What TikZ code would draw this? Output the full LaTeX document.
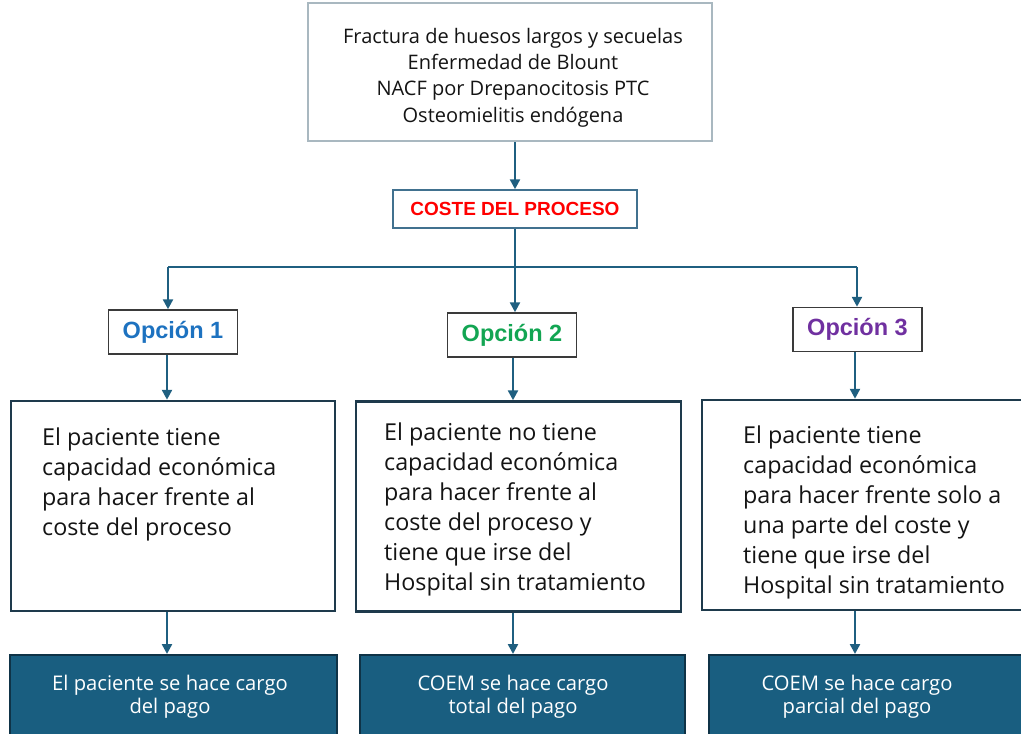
\documentclass[tikz,border=0pt]{standalone}
\usepackage{fontspec}
\setmainfont{Open Sans}
\newfontfamily\arialf{Liberation Sans}
\usetikzlibrary{arrows.meta}
\definecolor{arrc}{HTML}{1F5F80}
\definecolor{topbd}{HTML}{A9B8C0}
\definecolor{costebd}{HTML}{41718F}
\definecolor{opbd}{HTML}{3A3A3A}
\definecolor{midbd}{HTML}{1E3A4C}
\definecolor{botfill}{HTML}{195E80}
\definecolor{botbd}{HTML}{0F3347}
\definecolor{txt}{HTML}{141414}
\definecolor{opA}{HTML}{1D72C0}
\definecolor{opB}{HTML}{12A552}
\definecolor{opC}{HTML}{7030A0}
\definecolor{redc}{HTML}{FF0000}
\tikzset{
  conn/.style={draw=arrc, line width=2.4pt},
  arr/.style={conn, -{Triangle[length=10pt,width=10pt]}},
  topbox/.style={draw=topbd, line width=2pt, fill=white, inner sep=0pt, minimum width=404pt, minimum height=138pt},
  costebox/.style={draw=costebd, line width=1.5pt, fill=white, inner sep=0pt, minimum width=244pt, minimum height=38pt},
  opbox/.style={draw=opbd, line width=1.5pt, fill=white, inner sep=0pt, minimum width=129pt, minimum height=44pt, font=\arialf\bfseries\fontsize{23.5}{26}\selectfont},
  midbox/.style={draw=midbd, line width=2.5pt, fill=white, inner sep=0pt, minimum height=210pt},
  midtext/.style={anchor=base west, align=left, inner sep=0pt, text=txt, font=\fontsize{23.3}{30}\selectfont},
  botbox/.style={draw=botbd, line width=2pt, fill=botfill, inner sep=0pt, minimum height=95pt},
  bottext/.style={align=center, inner sep=0pt, anchor=base, text=white, font=\fontsize{20.2}{23}\selectfont},
}
\begin{document}
\begin{tikzpicture}[x=1pt,y=-1pt]
\useasboundingbox (0,0) rectangle (1021,734);
\clip (0,0) rectangle (1021,734);
% top box
\node[topbox] (top) at (510,72) {};
\node[align=center, inner sep=0pt, anchor=base, text=txt, font=\fontsize{20}{26.3}\selectfont] (toptext) at (513,122)
  {Fractura de huesos largos y secuelas\\Enfermedad de Blount\\NACF por Drepanocitosis PTC\\Osteomielitis endógena};
% coste
\node[costebox, text=redc, font=\arialf\bfseries\fontsize{19}{22}\selectfont] (coste) at (515,209) {COSTE DEL PROCESO};
% options
\node[opbox, text=opA] (op1) at (173,332) {Opción 1};
\node[opbox, text=opB] (op2) at (512,335) {Opción 2};
\node[opbox, text=opC] (op3) at (857.5,329.5) {Opción 3};
% middle boxes
\node[midbox, minimum width=324pt] (mid1) at (173,506) {};
\node[midbox, minimum width=325pt] (mid2) at (518.5,506.5) {};
\node[midbox, minimum width=328pt] (mid3) at (866,505) {};
\node[midtext] (t1) at (42,535) {El paciente tiene\\capacidad económica\\para hacer frente al\\coste del proceso};
\node[midtext] (t2) at (384,590) {El paciente no tiene\\capacidad económica\\para hacer frente al\\coste del proceso y\\tiene que irse del\\Hospital sin tratamiento};
\node[midtext] (t3) at (743,593) {El paciente tiene\\capacidad económica\\para hacer frente solo a\\una parte del coste y\\tiene que irse del\\Hospital sin tratamiento};
% bottom boxes
\node[botbox, minimum width=327pt] (bot1) at (173.5,702.5) {};
\node[botbox, minimum width=325pt] (bot2) at (522.5,702.5) {};
\node[botbox, minimum width=326pt] (bot3) at (872,702.5) {};
\node[bottext] (b1) at (170,713) {El paciente se hace cargo\\del pago};
\node[bottext] (b2) at (513,713) {COEM se hace cargo\\total del pago};
\node[bottext] (b3) at (857,713) {COEM se hace cargo\\parcial del pago};
% connectors
\coordinate (jl) at (168,267);
\coordinate (jr) at (857,267);
\draw[arr] (top.south -| coste.north) -- (coste.north);
\draw[conn] (jl) -- (jr);
\draw[arr] (coste.south) -- (coste.south |- op2.north);
\draw[arr] (jl) -- (jl |- op1.north);
\draw[arr] (jr) -- (jr |- op3.north);
\coordinate (c1) at (167,0);
\coordinate (c2) at (513,0);
\coordinate (c3) at (855,0);
\draw[arr] (c1 |- op1.south) -- (c1 |- mid1.north);
\draw[arr] (c2 |- op2.south) -- (c2 |- mid2.north);
\draw[arr] (c3 |- op3.south) -- (c3 |- mid3.north);
\draw[arr] (c1 |- mid1.south) -- (c1 |- bot1.north);
\draw[arr] (c2 |- mid2.south) -- (c2 |- bot2.north);
\draw[arr] (c3 |- mid3.south) -- (c3 |- bot3.north);
\end{tikzpicture}
\end{document}
